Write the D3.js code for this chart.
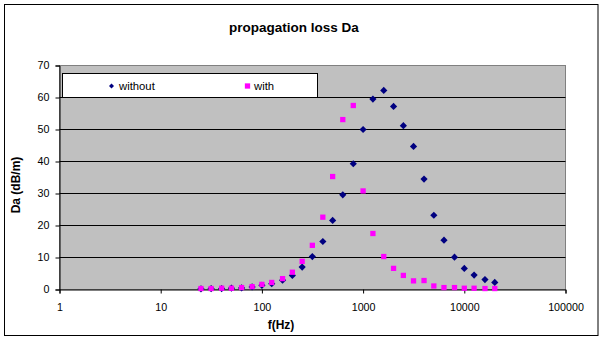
<!DOCTYPE html>
<html><head><meta charset="utf-8">
<script src="https://cdn.jsdelivr.net/npm/d3@7"></script>
<style>
html,body{margin:0;padding:0;background:#fff;}
svg{display:block;font-family:Arial,"Liberation Sans",sans-serif;}
</style></head>
<body>
<svg id="chart" width="605" height="341"></svg>
<script>
const freqs = [25,31.5,40,50,63,80,100,125,160,200,250,315,400,500,630,800,1000,1250,1600,2000,2500,3150,4000,5000,6300,8000,10000,12500,16000,20000];
const withoutVals = [0.2,0.3,0.3,0.4,0.5,0.8,1.3,1.8,2.9,4.4,7.0,10.3,15.0,21.6,29.6,39.3,50.0,59.5,62.2,57.2,51.2,44.7,34.5,23.2,15.4,10.1,6.6,4.5,3.1,2.2];
const withVals = [0.3,0.3,0.4,0.4,0.6,0.9,1.6,2.2,3.4,5.4,8.8,13.8,22.6,35.3,53.1,57.5,30.8,17.5,10.3,6.6,4.4,2.7,2.8,1.1,0.6,0.6,0.4,0.4,0.3,0.3];
const xTicks = [1,10,100,1000,10000,100000];
const yTicks = [0,10,20,30,40,50,60,70];
const seriesNames = ["without","with"];
const seriesColors = ["#000080","#FF00FF"];

const svg = d3.select("#chart");
// outer border
svg.append("rect").attr("x",4.5).attr("y",4.5).attr("width",593.5).attr("height",331)
  .attr("fill","#fff").attr("stroke","#000").attr("stroke-width",1);

const x = d3.scaleLog().domain([1,100000]).range([59.5,565.5]);
const y = d3.scaleLinear().domain([0,70]).range([289.5,65.5]);

// plot area
svg.append("rect").attr("x",x(1)).attr("y",y(70)).attr("width",x(100000)-x(1)).attr("height",y(0)-y(70))
  .attr("fill","#C0C0C0").attr("stroke","#808080").attr("stroke-width",1);

// gridlines
svg.append("g").selectAll("line").data(yTicks.filter(d=>d>0 && d<70)).join("line")
  .attr("x1",x(1)).attr("x2",x(100000)).attr("y1",d=>y(d)).attr("y2",d=>y(d))
  .attr("stroke","#000").attr("stroke-width",1);

// axes
const yAxis = svg.append("g").attr("transform",`translate(${x(1)},0)`)
  .call(d3.axisLeft(y).tickValues(yTicks).tickSize(4).tickPadding(6).tickFormat(d3.format("d")));
const xAxis = svg.append("g").attr("transform",`translate(0,${y(0)})`)
  .call(d3.axisBottom(x).tickValues(xTicks).tickSize(4).tickPadding(10).tickFormat(d3.format("d")));
[yAxis,xAxis].forEach(a=>{
  a.select(".domain").attr("stroke","#000");
  a.selectAll(".tick line").attr("stroke","#000");
  a.selectAll("text").attr("font-size","10.7px").attr("fill","#000").attr("font-family","Arial, 'Liberation Sans', sans-serif");
});

// series markers
const diamond = "M0,-3.6L3.6,0L0,3.6L-3.6,0Z";
const square = d3.symbol().type(d3.symbolSquare).size(28)();

svg.append("g").selectAll("path").data(freqs.map((f,i)=>[f,withoutVals[i]])).join("path")
  .attr("d",diamond).attr("transform",d=>`translate(${x(d[0])},${y(d[1])})`)
  .attr("fill",seriesColors[0]);
svg.append("g").selectAll("path").data(freqs.map((f,i)=>[f,withVals[i]])).join("path")
  .attr("d",square).attr("transform",d=>`translate(${x(d[0])},${y(d[1])})`)
  .attr("fill",seriesColors[1]);

// legend
svg.append("rect").attr("x",62.5).attr("y",73.5).attr("width",255).attr("height",24)
  .attr("fill","#fff").attr("stroke","#000").attr("stroke-width",1);
const leg = [{sym:"M0,-2.5L2.5,0L0,2.5L-2.5,0Z",cx:111.5,tx:119},{sym:square,cx:247.5,tx:254}];
leg.forEach((l,i)=>{
  svg.append("path").attr("d",l.sym).attr("transform",`translate(${l.cx},86)`).attr("fill",seriesColors[i]);
  svg.append("text").attr("x",l.tx).attr("y",90).attr("font-size","11.3px").attr("fill","#000").text(seriesNames[i]);
});

// titles
svg.append("text").attr("x",294).attr("y",32).attr("text-anchor","middle")
  .attr("font-size","13.5px").attr("font-weight","bold").text("propagation loss Da");
svg.append("text").attr("x",281).attr("y",329).attr("text-anchor","middle")
  .attr("font-size","12px").attr("font-weight","bold").text("f(Hz)");
svg.append("text").attr("transform","translate(20,185) rotate(-90)").attr("text-anchor","middle")
  .attr("font-size","12px").attr("font-weight","bold").text("Da (dB/m)");
</script>
</body></html>
